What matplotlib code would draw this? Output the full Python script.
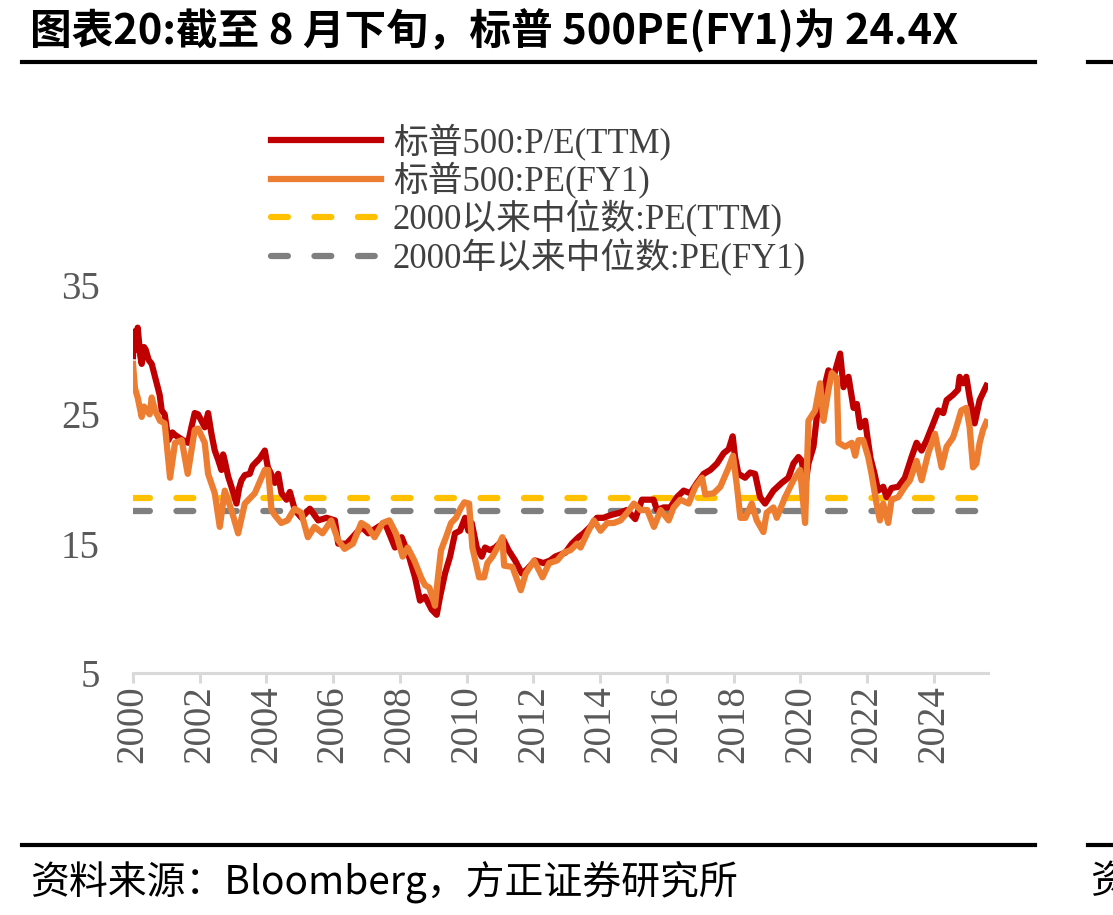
import numpy as np
import matplotlib.pyplot as plt
from matplotlib.lines import Line2D

plt.rcParams['font.family'] = ['Liberation Serif', 'Noto Sans CJK SC']
plt.rcParams['axes.unicode_minus'] = False

# 标普500 P/E(TTM)
ttm_t = [2000.00, 2000.04, 2000.10, 2000.14, 2000.22, 2000.26, 2000.33, 2000.38, 2000.47, 2000.56,
         2000.71, 2000.80, 2000.86, 2000.95, 2001.06, 2001.18, 2001.26, 2001.38, 2001.50, 2001.65,
         2001.75, 2001.85, 2001.95, 2002.05, 2002.15, 2002.25, 2002.35, 2002.45, 2002.55, 2002.65,
         2002.70, 2002.75, 2002.85, 2002.95, 2003.10, 2003.18, 2003.25, 2003.35, 2003.50, 2003.58,
         2003.65, 2003.80, 2003.95, 2004.04, 2004.12, 2004.25, 2004.35, 2004.45, 2004.60, 2004.70,
         2004.85, 2005.05, 2005.30, 2005.55, 2005.80, 2006.05, 2006.15, 2006.40, 2006.65, 2006.85,
         2007.05, 2007.35, 2007.55, 2007.85, 2008.05, 2008.25, 2008.45, 2008.60, 2008.75, 2008.95,
         2009.10, 2009.20, 2009.35, 2009.50, 2009.65, 2009.80, 2009.95, 2010.05, 2010.15, 2010.30,
         2010.45, 2010.55, 2010.70, 2010.85, 2011.10, 2011.25, 2011.45, 2011.65, 2011.80, 2012.05,
         2012.30, 2012.50, 2012.65, 2012.95, 2013.15, 2013.35, 2013.50, 2013.70, 2013.90, 2014.10,
         2014.30, 2014.60, 2014.80, 2015.05, 2015.25, 2015.40, 2015.60, 2015.70, 2015.90, 2016.10,
         2016.30, 2016.50, 2016.70, 2016.90, 2017.10, 2017.30, 2017.50, 2017.70, 2017.85, 2017.97,
         2018.04, 2018.14, 2018.34, 2018.49, 2018.64, 2018.79, 2018.94, 2019.19, 2019.44, 2019.64,
         2019.79, 2019.94, 2020.04, 2020.14, 2020.24, 2020.39, 2020.49, 2020.64, 2020.84, 2020.99,
         2021.19, 2021.29, 2021.44, 2021.59, 2021.69, 2021.79, 2021.94, 2022.02, 2022.10, 2022.22,
         2022.33, 2022.48, 2022.58, 2022.73, 2022.93, 2023.13, 2023.33, 2023.48, 2023.63, 2023.78,
         2023.98, 2024.13, 2024.28, 2024.38, 2024.57, 2024.72, 2024.77, 2024.87, 2024.97, 2025.07,
         2025.22, 2025.37, 2025.57]
ttm_v = [29.5, 31.4, 30.0, 31.7, 29.5, 28.9, 30.2, 30.0, 29.2, 28.9,
         27.4, 26.5, 25.3, 25.0, 23.0, 23.6, 23.4, 23.2, 23.0, 22.8,
         24.0, 25.1, 25.0, 24.5, 24.0, 25.1, 23.5, 22.2, 21.5, 20.7,
         21.9, 21.4, 20.2, 19.4, 18.1, 19.3, 19.9, 20.3, 20.4, 21.0,
         21.2, 21.6, 22.2, 20.9, 20.5, 19.7, 20.4, 18.9, 18.4, 19.0,
         17.6, 17.0, 17.7, 16.8, 17.0, 16.8, 15.0, 15.0, 15.7, 16.3,
         15.8, 16.3, 16.6, 14.7, 15.5, 14.2, 12.4, 10.6, 10.9, 9.9,
         9.5, 10.9, 12.7, 14.0, 15.8, 16.0, 17.0, 16.0, 16.6, 14.7,
         14.0, 14.7, 14.5, 14.7, 15.3, 14.5, 13.7, 12.7, 13.0, 13.7,
         13.5, 13.7, 14.0, 14.3, 15.0, 15.5, 15.8, 16.3, 17.0, 17.0,
         17.2, 17.4, 17.6, 16.9, 18.4, 18.4, 18.4, 17.6, 17.8, 17.8,
         18.6, 19.1, 18.9, 19.7, 20.4, 20.7, 21.2, 22.0, 22.3, 23.3,
         21.7, 20.4, 20.1, 20.5, 20.4, 18.6, 18.1, 19.1, 19.7, 20.1,
         21.2, 21.7, 21.4, 19.4, 21.2, 22.5, 24.8, 26.3, 28.4, 27.9,
         29.7, 27.1, 27.9, 25.5, 25.8, 24.0, 24.5, 23.0, 21.6, 20.4,
         19.1, 19.4, 18.6, 19.3, 19.4, 20.1, 21.7, 22.8, 22.2, 23.0,
         24.3, 25.3, 25.1, 26.1, 26.5, 26.9, 27.9, 27.4, 27.9, 26.3,
         24.3, 26.1, 27.2]

# 标普500 PE(FY1)
fy1_t = [2000.00, 2000.06, 2000.14, 2000.26, 2000.33, 2000.41, 2000.50, 2000.56, 2000.66, 2000.81,
         2000.95, 2001.11, 2001.26, 2001.46, 2001.64, 2001.85, 2001.95, 2002.15, 2002.25, 2002.45,
         2002.60, 2002.75, 2002.95, 2003.15, 2003.35, 2003.65, 2003.95, 2004.05, 2004.15, 2004.25,
         2004.44, 2004.63, 2004.84, 2005.04, 2005.24, 2005.44, 2005.68, 2005.94, 2006.14, 2006.34,
         2006.59, 2006.84, 2007.03, 2007.24, 2007.48, 2007.68, 2007.88, 2008.08, 2008.23, 2008.43,
         2008.63, 2008.75, 2008.88, 2009.05, 2009.13, 2009.23, 2009.38, 2009.53, 2009.68, 2009.83,
         2009.93, 2010.07, 2010.17, 2010.37, 2010.52, 2010.62, 2010.77, 2010.92, 2011.07, 2011.12,
         2011.37, 2011.62, 2011.77, 2012.02, 2012.27, 2012.47, 2012.71, 2012.91, 2013.11, 2013.31,
         2013.41, 2013.61, 2013.81, 2014.01, 2014.21, 2014.41, 2014.61, 2014.81, 2015.01, 2015.21,
         2015.41, 2015.61, 2015.81, 2016.05, 2016.20, 2016.40, 2016.65, 2016.85, 2017.05, 2017.15,
         2017.40, 2017.60, 2017.85, 2017.98, 2018.10, 2018.20, 2018.35, 2018.54, 2018.69, 2018.89,
         2018.99, 2019.19, 2019.29, 2019.54, 2019.79, 2019.99, 2020.14, 2020.24, 2020.44, 2020.59,
         2020.69, 2020.84, 2020.94, 2021.09, 2021.14, 2021.34, 2021.54, 2021.64, 2021.74, 2021.88,
         2022.03, 2022.13, 2022.28, 2022.38, 2022.48, 2022.63, 2022.73, 2022.93, 2023.13, 2023.28,
         2023.48, 2023.63, 2023.83, 2024.03, 2024.23, 2024.38, 2024.57, 2024.67, 2024.82, 2024.97,
         2025.07, 2025.17, 2025.27, 2025.37, 2025.47, 2025.57]
fy1_v = [28.9, 27.0, 26.3, 24.8, 25.6, 25.3, 25.0, 26.3, 25.3, 24.5,
         24.3, 20.1, 22.8, 23.0, 20.4, 23.8, 23.9, 22.8, 20.4, 18.9,
         16.3, 19.1, 17.6, 15.8, 18.1, 18.9, 20.7, 20.7, 17.6, 17.2,
         16.6, 16.8, 17.7, 17.4, 15.5, 16.3, 15.8, 16.8, 15.3, 14.6,
         15.0, 16.6, 16.3, 15.5, 16.6, 16.8, 15.8, 14.0, 14.7, 13.7,
         12.4, 11.8, 11.6, 10.2, 12.2, 14.5, 15.5, 16.6, 17.0, 17.8,
         18.2, 18.1, 14.7, 12.4, 12.4, 13.5, 14.0, 14.7, 15.5, 13.3,
         13.2, 11.4, 12.7, 13.7, 12.4, 13.5, 13.7, 14.3, 14.5, 15.0,
         14.7, 15.8, 16.8, 16.0, 16.6, 16.6, 16.8, 17.4, 18.1, 17.6,
         17.6, 16.3, 17.6, 16.8, 17.8, 18.4, 18.1, 19.4, 20.1, 18.8,
         18.9, 19.4, 20.9, 21.8, 19.4, 17.0, 17.0, 18.1, 16.8, 15.9,
         17.4, 17.8, 17.0, 18.6, 19.9, 20.7, 16.6, 24.5, 25.3, 27.4,
         24.5, 26.9, 28.2, 27.8, 22.8, 22.5, 22.8, 21.8, 23.0, 23.0,
         21.7, 20.4, 18.1, 16.8, 18.1, 16.6, 18.4, 18.6, 19.4, 19.9,
         21.4, 19.9, 22.0, 23.5, 20.9, 22.5, 23.2, 24.0, 25.3, 25.5,
         24.0, 20.9, 21.2, 22.8, 23.8, 24.4]

median_ttm = 18.5
median_fy1 = 17.5

labels = ['标普500:P/E(TTM)', '标普500:PE(FY1)', '2000以来中位数:PE(TTM)', '2000年以来中位数:PE(FY1)']
year_ticks = list(range(2000, 2025, 2))
y_ticks = [5, 15, 25, 35]

W, H = 1113, 915
fig = plt.figure(figsize=(W / 100, H / 100), dpi=100)
ax = fig.add_axes([133 / W, 1 - 673 / H, 855 / W, 388 / H])

ax.plot(ttm_t, ttm_v, color='#C00000', lw=4.5, label=labels[0], zorder=3)
ax.plot(fy1_t, fy1_v, color='#ED7D31', lw=4.5, label=labels[1], zorder=4)
dash = (0, (2.7, 4.25))
ax.plot([2000, 2025.56], [median_ttm] * 2, color='#FFC000', lw=4.5, ls=dash,
        dash_capstyle='round', label=labels[2], zorder=2)
ax.plot([2000, 2025.56], [median_fy1] * 2, color='#7F7F7F', lw=4.5, ls=dash,
        dash_capstyle='round', label=labels[3], zorder=2)

ax.set_xlim(2000, 2025.62)
ax.set_ylim(5, 35)
ax.set_xticks(year_ticks)
ax.set_xticklabels([str(y) for y in year_ticks], rotation=90)
ax.set_yticks(y_ticks)
for s in ['top', 'right', 'left']:
    ax.spines[s].set_visible(False)
ax.spines['bottom'].set_color('#D9D9D9')
ax.spines['bottom'].set_linewidth(2.2)
ax.tick_params(axis='x', colors='#595959', labelsize=28, length=7, width=2.2,
               color='#D9D9D9', pad=2)
ax.tick_params(axis='y', colors='#595959', labelsize=28, length=0, pad=24)

leg = ax.legend(loc='upper left', bbox_to_anchor=(254 / W, 1 - 106 / H),
                bbox_transform=fig.transFigure, frameon=False, fontsize=25,
                handlelength=3.15, handletextpad=0.35, labelspacing=0.04, borderpad=0)
for t in leg.get_texts():
    t.set_color('#404040')

# title, rules and footer
fig.text(30 / W, 1 - 31 / H, '图表20:截至 8 月下旬，标普 500PE(FY1)为 24.4X',
         fontsize=30, fontweight='bold', va='center', ha='left',
         family=['Noto Sans CJK SC'])
for y in [62, 845]:
    fig.add_artist(Line2D([22 / W, 1035 / W], [1 - y / H] * 2, color='black', lw=3))
    fig.add_artist(Line2D([1088 / W, 1.0], [1 - y / H] * 2, color='black', lw=3))
fig.text(30 / W, 1 - 882 / H, '资料来源：Bloomberg，方正证券研究所', fontsize=28,
         va='center', ha='left', family=['Noto Sans CJK SC'])
fig.text(1090 / W, 1 - 882 / H, '资', fontsize=28, va='center', ha='left',
         family=['Noto Sans CJK SC'])

fig.savefig('out.png', dpi=100)
